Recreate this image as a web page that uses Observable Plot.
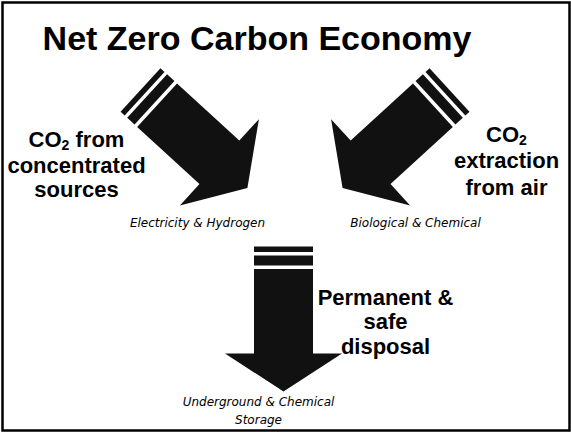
<!DOCTYPE html>
<html><head><meta charset="utf-8">
<script src="https://cdn.jsdelivr.net/npm/d3@7"></script>
<script src="https://cdn.jsdelivr.net/npm/@observablehq/plot@0.6"></script>
<style>html,body{margin:0;padding:0;background:#fff}#chart svg{display:block}</style>
</head><body><div id="chart"></div>
<script>
// ---- content ----
const title = "Net Zero Carbon Economy";
const arrowIds = ["concentrated", "air", "disposal"];
const arrowTailX = [140, 449, 283];
const arrowTailY = [89.5, 89.5, 246];
const arrowAngle = [42.5, 137.5, 90];
const pathwayLines = [["CO₂ from", "concentrated", "sources"], ["CO₂", "extraction", "from air"], ["Permanent &", "safe", "disposal"]];
const methodLines = [["Electricity & Hydrogen"], ["Biological & Chemical"], ["Underground & Chemical", "Storage"]];

// ---- layout (pixel space of the 571x432 picture) ----
const W = 571, H = 432;
const pathwayX = [76, 506, 385];
const pathwayBaselines = [[146, 172, 196.5], [141, 167.5, 194], [304, 328.5, 353]];
const methodAnchor = [[197, 226], [415, 226], [258, 405]];
const methodLead = 18;
// arrow shape in local frame: along a, across c
const stripe1 = [0, 5.5], stripe2 = [9, 19], shaft = [22.5, 107], tipA = 145, halfShaft = 29.5, halfHead = 58.5;

function toXY(i, a, c) {
  const t = arrowAngle[i] * Math.PI / 180;
  const dx = Math.cos(t), dy = Math.sin(t);
  return {x: arrowTailX[i] + a * dx - c * dy, y: arrowTailY[i] + a * dy + c * dx};
}
const polys = [];
arrowIds.forEach((id, i) => {
  const rect = (k, [a0, a1]) => [[a0, -halfShaft], [a1, -halfShaft], [a1, halfShaft], [a0, halfShaft]]
    .forEach(([a, c]) => polys.push({id: id + k, ...toXY(i, a, c)}));
  rect("s1", stripe1);
  rect("s2", stripe2);
  [[shaft[0], -halfShaft], [shaft[1], -halfShaft], [shaft[1], -halfHead], [tipA, 0], [shaft[1], halfHead], [shaft[1], halfShaft], [shaft[0], halfShaft]]
    .forEach(([a, c]) => polys.push({id: id + "body", ...toXY(i, a, c)}));
});

const pathwayText = [];
pathwayLines.forEach((lines, i) => lines.forEach((t, j) => pathwayText.push({t, x: pathwayX[i], y: pathwayBaselines[i][j]})));
const methodText = [];
methodLines.forEach((lines, i) => lines.forEach((t, j) => methodText.push({t, x: methodAnchor[i][0], y: methodAnchor[i][1] + j * methodLead})));

const bold = "'Liberation Sans', Arial, sans-serif";
const plot = Plot.plot({
  width: W, height: H, margin: 0,
  x: {domain: [0, W], range: [0, W], axis: null},
  y: {domain: [0, H], range: [0, H], axis: null},
  style: {background: "#fff"},
  marks: [
    Plot.frame({stroke: "#000", strokeWidth: 2.5, inset: 2}),
    Plot.line(polys, {x: "x", y: "y", z: "id", fill: "#111", stroke: "none"}),
    Plot.text([title], {x: () => 256.5, y: () => 49, text: d => d, fontSize: 34, fontWeight: "bold", fontFamily: bold, fill: "#000", lineAnchor: "bottom"}),
    Plot.text(pathwayText, {x: "x", y: "y", text: "t", fontSize: 22, fontWeight: "bold", fontFamily: bold, fill: "#000", lineAnchor: "bottom"}),
    Plot.text(methodText, {x: "x", y: "y", text: "t", fontSize: 12, fontStyle: "italic", fontFamily: "'DejaVu Sans', Verdana, sans-serif", fill: "#000", lineAnchor: "bottom"})
  ]
});
// subscript "2" in CO₂
const NS = "http://www.w3.org/2000/svg";
plot.querySelectorAll("text, tspan").forEach(el => {
  if (el.children.length === 0 && el.textContent.includes("₂")) {
    const [before, after] = el.textContent.split("₂");
    el.textContent = before;
    const sub = document.createElementNS(NS, "tspan");
    sub.setAttribute("dy", "3"); sub.setAttribute("font-size", "14"); sub.textContent = "2";
    el.appendChild(sub);
    if (after) {
      const rest = document.createElementNS(NS, "tspan");
      rest.setAttribute("dy", "-3"); rest.textContent = after;
      el.appendChild(rest);
    }
  }
});
document.getElementById("chart").appendChild(plot);
</script>
</body></html>
